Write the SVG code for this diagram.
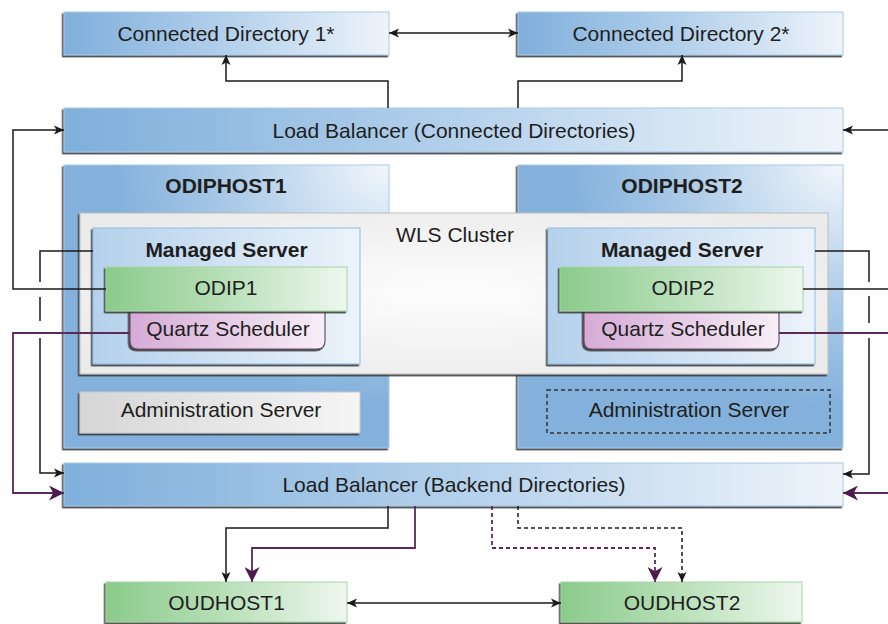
<svg xmlns="http://www.w3.org/2000/svg" width="888" height="624" viewBox="0 0 888 624">
<defs>
<linearGradient id="gBlue" x1="0" y1="0" x2="1" y2="0">
<stop offset="0" stop-color="#7fafdb"/><stop offset="0.5" stop-color="#b3d0eb"/><stop offset="1" stop-color="#eef4fa"/>
</linearGradient>
<radialGradient id="gHost" cx="1" cy="0" r="0.85">
<stop offset="0" stop-color="#f2f7fc"/><stop offset="0.6" stop-color="#a9c9e7"/><stop offset="1" stop-color="#83b1dc"/>
</radialGradient>
<linearGradient id="gMs" x1="0" y1="0" x2="1" y2="0">
<stop offset="0" stop-color="#b5d1ec"/><stop offset="1" stop-color="#ecf3fa"/>
</linearGradient>
<radialGradient id="gWls" cx="0.5" cy="0.5" r="0.6">
<stop offset="0" stop-color="#fdfdfd"/><stop offset="1" stop-color="#ebebeb"/>
</radialGradient>
<linearGradient id="gGreen" x1="0" y1="0" x2="1" y2="0">
<stop offset="0" stop-color="#8bca8b"/><stop offset="0.5" stop-color="#b9e0b9"/><stop offset="1" stop-color="#eef7ee"/>
</linearGradient>
<linearGradient id="gPink" x1="0" y1="0" x2="1" y2="0">
<stop offset="0" stop-color="#d6abd6"/><stop offset="1" stop-color="#f7eef7"/>
</linearGradient>
<linearGradient id="gGray" x1="0" y1="0" x2="1" y2="0">
<stop offset="0" stop-color="#d6d6d6"/><stop offset="1" stop-color="#f5f5f5"/>
</linearGradient>
<filter id="sh" x="-5%" y="-5%" width="110%" height="115%">
<feDropShadow dx="-1.5" dy="1.8" stdDeviation="0.4" flood-color="#333" flood-opacity="0.9"/>
</filter>
<marker id="ab" viewBox="0 0 10 10" refX="10" refY="5" markerWidth="10" markerHeight="10" markerUnits="userSpaceOnUse" orient="auto-start-reverse">
<path d="M0,0.5 L10,5 L0,9.5 L2.5,5 Z" fill="#1a1a1a"/>
</marker>
<marker id="ap" viewBox="0 0 14 14" refX="14" refY="7" markerWidth="15" markerHeight="15" markerUnits="userSpaceOnUse" orient="auto">
<path d="M0,0 L14,7 L0,14 L4,7 Z" fill="#4e1a4e"/>
</marker>
<style>
text{font-family:"Liberation Sans",Arial,sans-serif;font-size:21px;fill:#1e1e1e;text-anchor:middle}
.b{font-weight:bold}
.blue{fill:url(#gBlue);stroke:#a9c9e8;stroke-width:1;filter:url(#sh)}
.host{fill:url(#gHost);stroke:#a9c9e8;stroke-width:1;filter:url(#sh)}
.ms{fill:url(#gMs);stroke:#8fbbe6;stroke-width:1;filter:url(#sh)}
.wls{fill:url(#gWls);stroke:#bdbdbd;stroke-width:1;filter:url(#sh)}
.green{fill:url(#gGreen);stroke:#a5d6a5;stroke-width:1;filter:url(#sh)}
.pink{fill:url(#gPink);stroke:#6e4e6e;stroke-width:1.2;filter:url(#sh)}
.gray{fill:url(#gGray);stroke:#c8c8c8;stroke-width:1;filter:url(#sh)}
.dashbox{fill:none;stroke:#333;stroke-width:1.5;stroke-dasharray:4,3}
.k{fill:none;stroke:#1a1a1a;stroke-width:1.5}
.p{fill:none;stroke:#5a2a5a;stroke-width:1.8}
.d{stroke-dasharray:4,3}
</style>
</defs>

<g id="cd1"><rect class="blue" x="64" y="12" width="325" height="43"/><text x="226" y="41">Connected Directory 1*</text></g>
<g id="cd2"><rect class="blue" x="518" y="12" width="325" height="43"/><text x="681" y="41">Connected Directory 2*</text></g>
<g id="lbc"><rect class="blue" x="64" y="108" width="779" height="44"/><text x="454" y="137.5">Load Balancer (Connected Directories)</text></g>

<g id="odiphost1"><rect class="host" x="64" y="165" width="325" height="283"/><text class="b" x="226" y="193">ODIPHOST1</text></g>
<g id="odiphost2"><rect class="host" x="518" y="165" width="325" height="283"/><text class="b" x="682" y="193">ODIPHOST2</text></g>

<g id="wls"><rect class="wls" x="80" y="213" width="748" height="161"/><text x="455" y="242">WLS Cluster</text></g>

<g id="ms1"><rect class="ms" x="93" y="228" width="267" height="136"/><text class="b" x="226.5" y="257">Managed Server</text></g>
<g id="quartz1"><path class="pink" d="M130,300 H325 V341 Q325,349 317,349 H138 Q130,349 130,341 Z"/><text x="228" y="336">Quartz Scheduler</text></g>
<g id="odip1"><rect class="green" x="106" y="267" width="241" height="44"/><text x="226" y="295">ODIP1</text></g>

<g id="ms2"><rect class="ms" x="548" y="228" width="267" height="136"/><text class="b" x="682" y="257">Managed Server</text></g>
<g id="quartz2"><path class="pink" d="M584,300 H779 V341 Q779,349 771,349 H592 Q584,349 584,341 Z"/><text x="683" y="336">Quartz Scheduler</text></g>
<g id="odip2"><rect class="green" x="560" y="267" width="243" height="44"/><text x="683" y="295">ODIP2</text></g>

<g id="admin1"><rect class="gray" x="80" y="392" width="280" height="41"/><text x="221" y="417">Administration Server</text></g>
<g id="admin2"><rect class="dashbox" x="547" y="390" width="283" height="43"/><text x="689" y="417">Administration Server</text></g>

<g id="lbb"><rect class="blue" x="64" y="463" width="779" height="43"/><text x="454" y="492">Load Balancer (Backend Directories)</text></g>

<g id="oud1"><rect class="green" x="106" y="582" width="241" height="40"/><text x="226.5" y="610">OUDHOST1</text></g>
<g id="oud2"><rect class="green" x="561" y="582" width="241" height="40"/><text x="682" y="610">OUDHOST2</text></g>

<g id="connectors">
<path class="k" d="M389,33 H518" marker-start="url(#ab)" marker-end="url(#ab)"/>
<path class="k" d="M388,108 V81 H226 V55" marker-end="url(#ab)"/>
<path class="k" d="M518,108 V81 H682 V55" marker-end="url(#ab)"/>
<path class="k" d="M106,289 H13 V130 H64" marker-end="url(#ab)"/>
<path class="k" d="M888,130 H843" marker-end="url(#ab)"/>
<path class="k" d="M93,251 H40 V282 M40,297 V321 M40,338 V473 H64" marker-end="url(#ab)"/>
<path class="p" d="M130,333 H13 V493 H64" marker-end="url(#ap)"/>
<path class="k" d="M803,289 H888"/>
<path class="p" d="M779,333 H888"/>
<path class="k" d="M815,251 H869 V282 M869,296 V323 M869,338 V474 H843" marker-end="url(#ab)"/>
<path class="p" d="M888,493 H843" marker-end="url(#ap)"/>
<path class="k" d="M388,506 V528 H226 V582" marker-end="url(#ab)"/>
<path class="p" d="M415,506 V548 H252 V582" marker-end="url(#ap)"/>
<path class="p d" d="M492,506 V548 H655 V582" marker-end="url(#ap)"/>
<path class="k d" d="M518,506 V528 H682 V582" marker-end="url(#ab)"/>
<path class="k" d="M347,603 H561" marker-start="url(#ab)" marker-end="url(#ab)"/>
</g>
</svg>
